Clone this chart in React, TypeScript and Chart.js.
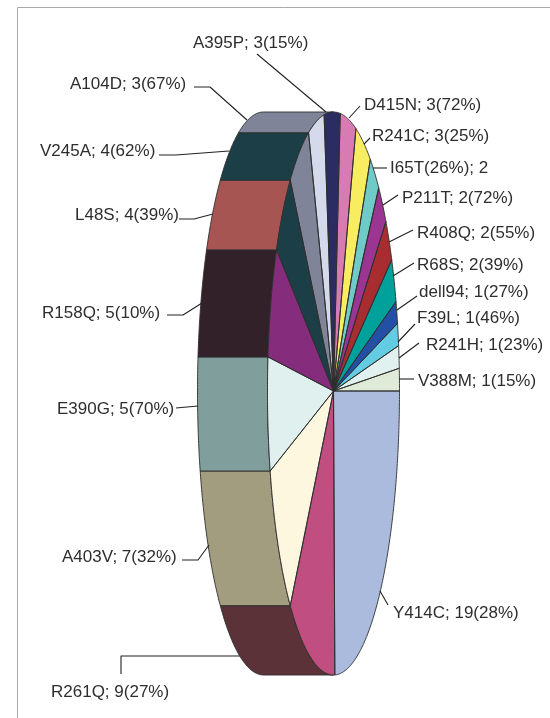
import React, { useEffect, useRef } from "react";
import { Chart, registerables } from "chart.js";

Chart.register(...registerables);

const mutations = ["Y414C","R261Q","A403V","E390G","R158Q","L48S","V245A","A104D","A395P","D415N","R241C","I65T","P211T","R408Q","R68S","dell94","F39L","R241H","V388M"];
const counts = [19,9,7,5,5,4,4,3,3,3,3,2,2,2,2,1,1,1,1];
const percents = [28,27,32,70,10,39,62,67,15,72,25,26,72,55,39,27,46,23,15];
const faceColors = ["#ABBBDE","#C04E80","#FDF7DF","#E0F0EE","#852C7C","#1C3F47","#808499","#D4DAEC","#2B2D62","#D87BB2","#F8EC60","#6FCAC8","#9B3592","#A82D30","#00A19B","#2350A4","#63CBE2","#E1F1F0","#E0EBD7"];
const sideColors = ["#5A3238","#5A3238","#A39D80","#809F9C","#33212A","#A65552","#1C3F47","#808499"];

const labelSpots: [number, number][] = [
  [393,618],[51,697],[62,562],[57,414],[42,318],[75,220],[40,156],[70,89],[193,48],
  [364,110],[372,141],[390,173],[402,203],[417,238],[417,270],[419,297],[417,323],[426,350],[418,386],
];
const leaderPaths: [number, number][][] = [
  [[388,605],[380,591]],
  [[121,674],[121,656],[240,656]],
  [[182,560],[198,560],[209,545]],
  [[176,408],[198,406]],
  [[167,315],[183,315],[202,303]],
  [[179,219],[194,219],[213,214]],
  [[159,155],[176,155],[229,151]],
  [[194,87],[210,87],[247,120]],
  [[257,54],[326,112]],
  [[360,106],[349,118]],
  [[370,138],[364,144]],
  [[387,168],[373,168]],
  [[398,195],[383,205]],
  [[413,230],[389,242]],
  [[414,263],[393,276]],
  [[417,296],[397,310]],
  [[415,324],[398,342]],
  [[419,343],[399,358]],
  [[414,379],[399,379]],
];

const CX = 333.5, CY = 391, RX = 66, RTOP = 279, RBOTTOM = 284, DEPTH = 70, BASE_R = 150;
const labelText = (i: number) =>
  mutations[i] === "I65T"
    ? `${mutations[i]}(${percents[i]}%); ${counts[i]}`
    : `${mutations[i]}; ${counts[i]}(${percents[i]}%)`;

const pt = (t: number, dx = 0): [number, number] => {
  const s = Math.sin(t);
  return [CX + RX * Math.cos(t) + dx, CY + (s > 0 ? RBOTTOM : RTOP) * s];
};
const sample = (a: number, b: number) => {
  const n = Math.max(2, Math.ceil(Math.abs(b - a) / 0.01));
  return Array.from({ length: n + 1 }, (_, i) => a + ((b - a) * i) / n);
};

const piePlugin = {
  id: "tiltedPie",
  beforeDatasetsDraw(chart: any) {
    const ctx = chart.ctx as CanvasRenderingContext2D;
    ctx.save();
    ctx.strokeStyle = "#a9a9a9";
    ctx.lineWidth = 1;
    ctx.beginPath();
    ctx.moveTo(17.5, 718);
    ctx.lineTo(17.5, 7.5);
    ctx.lineTo(550, 7.5);
    ctx.stroke();
    const arcs = chart.getDatasetMeta(0).data;
    ctx.strokeStyle = "#2c2c2c";
    ctx.lineWidth = 0.9;
    ctx.lineJoin = "round";
    arcs.forEach((arc: any, i: number) => {
      if (!sideColors[i]) return;
      const s = Math.max(arc.startAngle, Math.PI / 2);
      // the last coloured wall runs on to the back of the pie
      const e = sideColors[i + 1] ? arc.endAngle : (3 * Math.PI) / 2;
      if (e <= s) return;
      ctx.beginPath();
      sample(s, e).forEach((t) => ctx.lineTo(...pt(t)));
      sample(e, s).forEach((t) => ctx.lineTo(...pt(t, -DEPTH)));
      ctx.closePath();
      ctx.fillStyle = sideColors[i];
      ctx.fill();
      ctx.stroke();
    });
    ctx.restore();
  },
  beforeDatasetDraw(chart: any, args: any) {
    const ctx = chart.ctx as CanvasRenderingContext2D;
    // lower half of the ellipse first, then let the library draw the upper half
    ctx.save();
    ctx.beginPath();
    ctx.rect(0, CY, 550, 718 - CY);
    ctx.clip();
    ctx.translate(CX, CY);
    ctx.scale(RX / BASE_R, RBOTTOM / BASE_R);
    ctx.translate(-CX, -CY);
    args.meta.controller.draw();
    ctx.restore();
    ctx.save();
    ctx.beginPath();
    ctx.rect(0, 0, 550, CY);
    ctx.clip();
    ctx.translate(CX, CY);
    ctx.scale(RX / BASE_R, RTOP / BASE_R);
    ctx.translate(-CX, -CY);
  },
  afterDatasetDraw(chart: any) {
    chart.ctx.restore();
  },
  afterDatasetsDraw(chart: any) {
    const ctx = chart.ctx as CanvasRenderingContext2D;
    const arcs = chart.getDatasetMeta(0).data;
    ctx.save();
    ctx.strokeStyle = "#2c2c2c";
    ctx.lineWidth = 0.9;
    ctx.lineJoin = "round";
    arcs.forEach((arc: any) => {
      ctx.beginPath();
      ctx.moveTo(CX, CY);
      sample(arc.startAngle, arc.endAngle).forEach((t) => ctx.lineTo(...pt(t)));
      ctx.closePath();
      ctx.stroke();
    });
    ctx.strokeStyle = "#222";
    ctx.lineWidth = 1.1;
    leaderPaths.forEach((p) => {
      ctx.beginPath();
      p.forEach(([x, y]) => ctx.lineTo(x, y));
      ctx.stroke();
    });
    ctx.fillStyle = "#2e2e2e";
    ctx.font = '17px "Liberation Sans"';
    ctx.textBaseline = "alphabetic";
    ctx.textAlign = "left";
    mutations.forEach((_, i) => ctx.fillText(labelText(i), labelSpots[i][0], labelSpots[i][1]));
    ctx.restore();
  },
};

export default function App() {
  const ref = useRef<HTMLCanvasElement>(null);
  useEffect(() => {
    const chart = new Chart(ref.current!, {
      type: "pie",
      data: {
        labels: mutations,
        datasets: [{ data: counts, backgroundColor: faceColors, borderWidth: 0, clip: false } as any],
      },
      options: {
        animation: false,
        responsive: false,
        maintainAspectRatio: false,
        rotation: 90,
        layout: {
          padding: {
            left: CX - BASE_R,
            right: 550 - CX - BASE_R,
            top: CY - BASE_R,
            bottom: 718 - CY - BASE_R,
          },
        },
        plugins: { legend: { display: false }, tooltip: { enabled: false }, title: { display: false } },
      },
      plugins: [piePlugin],
    });
    return () => chart.destroy();
  }, []);
  return (
    <canvas
      ref={ref}
      width={550}
      height={718}
      style={{ position: "absolute", left: 0, top: 0, display: "block", background: "#fff" }}
    />
  );
}
